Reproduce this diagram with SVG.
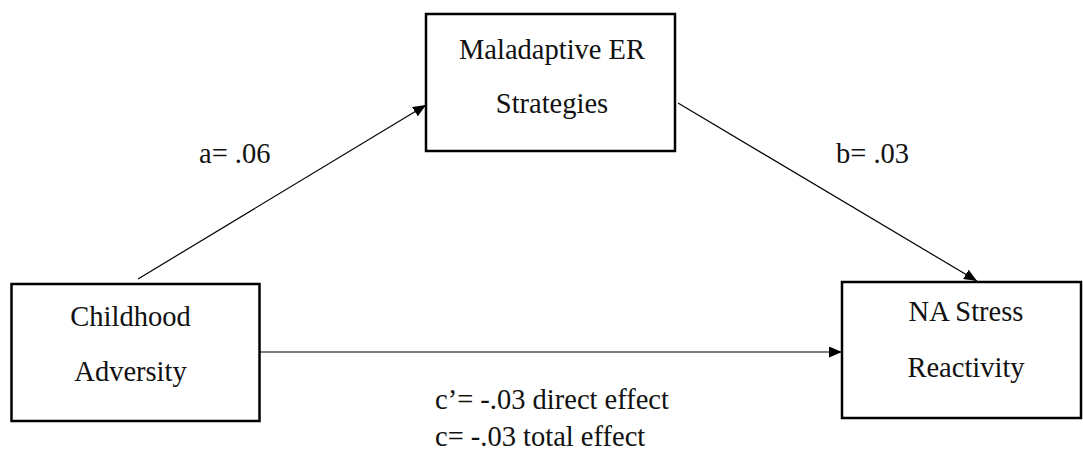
<svg xmlns="http://www.w3.org/2000/svg" width="1083" height="450" viewBox="0 0 1083 450">
<defs>
<style>
.box{fill:#fff;stroke:#000;stroke-width:2.5}
.lbl{font-family:"Liberation Serif","Times New Roman",serif;font-size:28.5px;fill:#111}
.mid{text-anchor:middle}
.con{stroke:#000;stroke-width:1.2;fill:none;marker-end:url(#ah)}
</style>
<marker id="ah" markerUnits="userSpaceOnUse" markerWidth="13" markerHeight="11" refX="13" refY="5.5" orient="auto">
<path d="M0,0 L13,5.5 L0,11 z" fill="#000"/>
</marker>
</defs>
<rect width="1083" height="450" fill="#fff"/>
<g id="connectors">
<line class="con" x1="138" y1="279" x2="426" y2="105"/>
<line class="con" x1="678" y1="103" x2="977" y2="281"/>
<line class="con" x1="260" y1="352" x2="842" y2="352"/>
</g>
<g id="node-mediator">
<rect class="box" x="426" y="14" width="249" height="137"/>
<text class="lbl mid" x="552" y="59">Maladaptive ER</text>
<text class="lbl mid" x="552" y="113">Strategies</text>
</g>
<g id="node-childhood">
<rect class="box" x="11.5" y="284" width="248" height="137"/>
<text class="lbl mid" x="130.5" y="326">Childhood</text>
<text class="lbl mid" x="130.5" y="381">Adversity</text>
</g>
<g id="node-na">
<rect class="box" x="842" y="282" width="239" height="136"/>
<text class="lbl mid" x="966" y="321">NA Stress</text>
<text class="lbl mid" x="966" y="377">Reactivity</text>
</g>
<g id="labels">
<text class="lbl" x="199" y="163">a= .06</text>
<text class="lbl" x="836" y="163">b= .03</text>
<text class="lbl" x="435" y="409">c’= -.03 direct effect</text>
<text class="lbl" x="435" y="446">c= -.03 total effect</text>
</g>
</svg>
